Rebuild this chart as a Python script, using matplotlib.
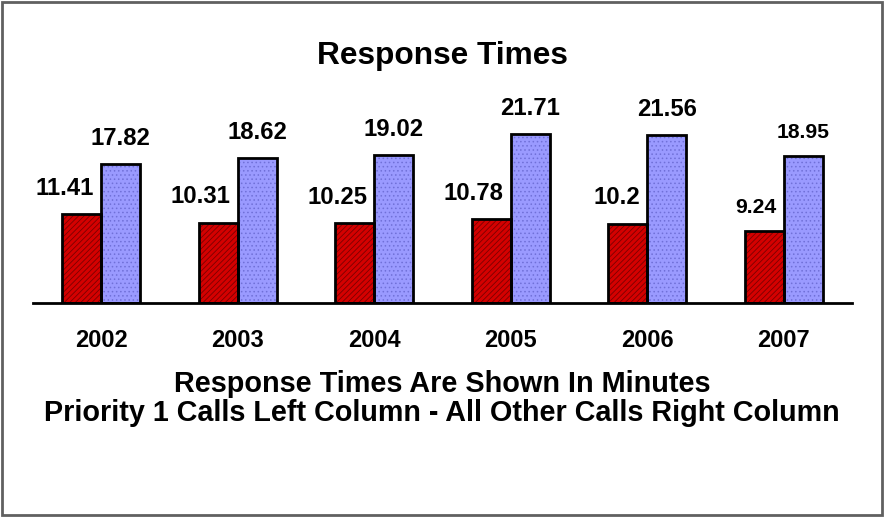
import matplotlib
matplotlib.use("Agg")
import matplotlib.pyplot as plt
import numpy as np
from matplotlib.patches import Rectangle

plt.rcParams["font.family"] = ["Liberation Sans", "DejaVu Sans"]
plt.rcParams["font.weight"] = "bold"
plt.rcParams["hatch.linewidth"] = 0.6

years    = ["2002", "2003", "2004", "2005", "2006", "2007"]
priority = [11.41, 10.31, 10.25, 10.78, 10.2, 9.24]
other    = [17.82, 18.62, 19.02, 21.71, 21.56, 18.95]
label_size = [17.2, 17.2, 17.2, 17.2, 17.2, 15.2]

RED, RED_HATCH   = "#d40000", "#7a0000"
BLUE, BLUE_HATCH = "#9a9aff", "#7070d8"
W = 0.285

fig = plt.figure(figsize=(8.84, 5.17), dpi=100)
ax = fig.add_axes([33 / 884, 1 - 303 / 517, 819 / 884, 194.5 / 517])

x = np.arange(len(years))
# hatch layer, then black outline on top
ax.bar(x - W / 2, priority, W, color=RED, edgecolor=RED_HATCH, hatch="//////", lw=0)
ax.bar(x + W / 2, other, W, color=BLUE, edgecolor=BLUE_HATCH, hatch="....", lw=0)
ax.bar(x - W / 2, priority, W, fill=False, edgecolor="black", lw=2)
ax.bar(x + W / 2, other, W, fill=False, edgecolor="black", lw=2)

for i in range(len(years)):
    ax.annotate(f"{priority[i]:g}", (x[i], priority[i]), xytext=(-5, 10.5),
                textcoords="offset points", ha="right", va="bottom",
                fontsize=label_size[i], fontweight="bold")
    ax.annotate(f"{other[i]:g}", (x[i] + W / 2, other[i]), xytext=(0, 10),
                textcoords="offset points", ha="center", va="bottom",
                fontsize=label_size[i], fontweight="bold")

ax.set_xlim(-0.5, len(years) - 0.5)
ax.set_ylim(0, 25)
ax.set_xticks(x, years, fontsize=17, fontweight="bold")
ax.tick_params(axis="x", length=0, pad=19)
ax.set_yticks([])
for s in ["top", "right", "left"]:
    ax.spines[s].set_visible(False)
ax.spines["bottom"].set_linewidth(2)

fig.text(0.5, 1 - 56 / 517, "Response Times", ha="center", va="center",
         fontsize=22.8, fontweight="bold")
fig.text(0.5, 1 - 384 / 517, "Response Times Are Shown In Minutes",
         ha="center", va="center", fontsize=20.8, fontweight="bold")
fig.text(0.5, 1 - 413 / 517, "Priority 1 Calls Left Column - All Other Calls Right Column",
         ha="center", va="center", fontsize=20.7, fontweight="bold")

fig.patches.append(Rectangle((0.002, 0.003), 0.996, 0.994, transform=fig.transFigure,
                             fill=False, edgecolor="#606060", lw=2))

fig.savefig("out.png", dpi=100)
